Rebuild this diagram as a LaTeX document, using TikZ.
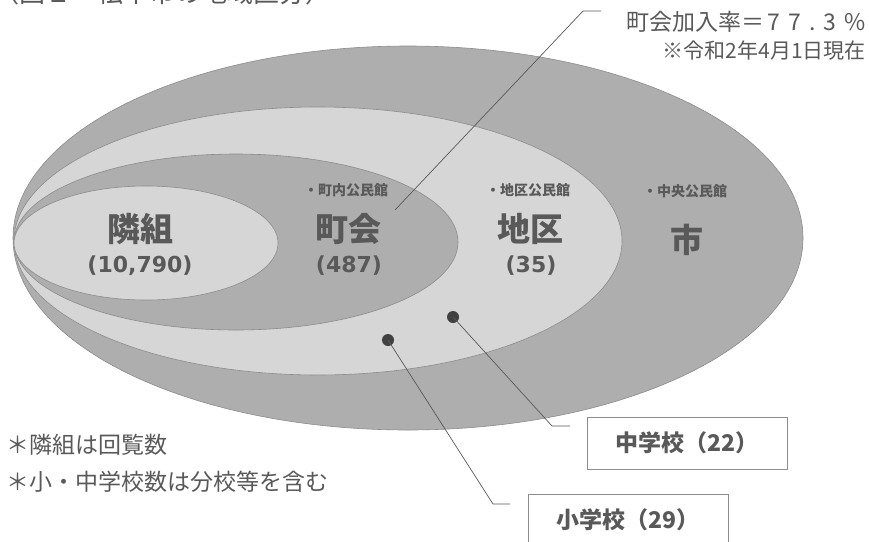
\documentclass[tikz,border=0pt]{standalone}
\usepackage{fontspec}
\setmainfont{DejaVu Sans}
\newfontfamily\jp{Noto Sans CJK JP}
\usetikzlibrary{positioning}
\definecolor{ringdark}{HTML}{AEAEAE}
\definecolor{ringlight}{HTML}{D6D6D6}
\definecolor{inkgray}{HTML}{595959}
\definecolor{edgegray}{HTML}{8C8C8C}
\tikzset{
  ring/.style={draw=edgegray, line width=0.6pt},
  areaname/.style={font=\jp\bfseries\fontsize{33}{33}\selectfont, text=inkgray, inner sep=0pt},
  areacount/.style={font=\bfseries\fontsize{22}{22}\selectfont, text=inkgray, inner sep=0pt},
  hallname/.style={font=\jp\bfseries\fontsize{14}{14}\selectfont, text=inkgray, inner sep=0pt},
  notetext/.style={font=\jp\fontsize{23}{23}\selectfont, text=inkgray, inner sep=0pt, anchor=west},
  schoolbox/.style={draw=edgegray, line width=1pt, fill=white, minimum width=200pt, minimum height=52pt, inner sep=0pt, font=\jp\bfseries\fontsize{23}{23}\selectfont, text=inkgray},
  pin/.style={circle, fill=black!75, inner sep=0pt, minimum size=12pt},
  leader/.style={draw=inkgray, line width=0.7pt},
}
\begin{document}
\begin{tikzpicture}[x=1pt,y=-1pt]
\useasboundingbox (0,0) rectangle (869,541);
% title, cut at the top edge
\node[font=\jp\fontsize{26}{26}\selectfont, text=inkgray, anchor=west, inner sep=0pt] (title) at (-7,-7) {（図１　松本市の地域区分）};
% rings, outermost first
\draw[ring, fill=ringdark] (408,238) ellipse [x radius=395pt, y radius=192pt];
\draw[ring, fill=ringlight] (318,241) ellipse [x radius=304pt, y radius=134pt];
\draw[ring, fill=ringdark] (236,242) ellipse [x radius=222pt, y radius=88pt];
\draw[ring, fill=ringlight] (146,243) ellipse [x radius=132pt, y radius=57pt];
% area names and counts
\node[areaname] (tonari) at (140,229) {隣組};
\node[areacount] (tonarinum) at (140,266) {(10,790)};
\node[hallname] (chohall) at (346,190) {・町内公民館};
\node[areaname] (chokai) at (348,229) {町会};
\node[areacount] (chokainum) at (349,266) {(487)};
\node[hallname] (chikuhall) at (528,190) {・地区公民館};
\node[areaname] (chiku) at (530,229) {地区};
\node[areacount] (chikunum) at (531,266) {(35)};
\node[hallname] (shihall) at (685,191) {・中央公民館};
\node[areaname] (shi) at (687,240) {市};
% join rate
\node[font=\jp\fontsize{23}{23}\selectfont, text=inkgray, anchor=east, inner sep=0pt] (rate) at (866,22) {町会加入率＝\hspace{3pt}7\hspace{8pt}7\hspace{8pt}.\hspace{8pt}3\hspace{8pt}\%};
\node[font=\jp\fontsize{21}{21}\selectfont, text=inkgray, anchor=east, inner sep=0pt] (asof) at (866,51) {※令和2年4月1日現在};
\coordinate (rateend) at (395,210);
\coordinate (ratebend) at (583,11);
\coordinate (ratetail) at (601,11);
\draw[leader] (rateend) -- (ratebend) -- (ratetail);
% schools
\node[pin] (jhdot) at (453,317) {};
\node[pin] (esdot) at (388,340) {};
\coordinate (jhbend) at (552,426);
\coordinate (jhtail) at (570,426);
\coordinate (esbend) at (493,504);
\coordinate (estail) at (510,504);
\draw[leader] (jhdot.center) -- (jhbend) -- (jhtail);
\draw[leader] (esdot.center) -- (esbend) -- (estail);
\node[schoolbox] (jhbox) at (687,443) {中学校（22）};
\node[schoolbox] (esbox) at (628,520) {小学校（29）};
% notes
\node[notetext] (note1) at (6,445) {＊隣組は回覧数};
\node[notetext] (note2) at (6,482) {＊小・中学校数は分校等を含む};
\end{tikzpicture}
\end{document}
